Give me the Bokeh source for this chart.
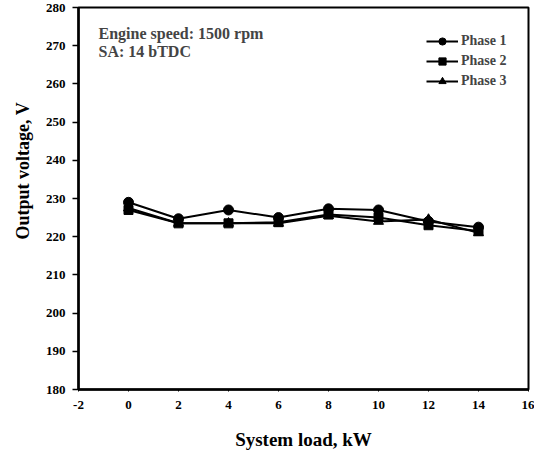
from bokeh.plotting import figure
from bokeh.models import Range1d, FixedTicker, Legend, LegendItem, Label, Title
from bokeh.embed import file_html
from bokeh.resources import INLINE

load_kw = [0, 2, 4, 6, 8, 10, 12, 14]
phase1 = [229.0, 224.7, 227.0, 225.0, 227.3, 227.0, 224.0, 222.5]
phase2 = [227.0, 223.5, 223.5, 223.8, 225.8, 225.0, 223.0, 221.5]
phase3 = [227.5, 223.5, 223.5, 223.5, 225.5, 224.0, 224.5, 221.0]
x_ticks = list(range(-2, 17, 2))
y_ticks = list(range(180, 281, 10))

FONT = "Liberation Serif"

p = figure(width=534, height=452, output_backend="svg", toolbar_location=None,
           x_range=Range1d(-2, 16), y_range=Range1d(180, 280),
           min_border_left=0, min_border_right=6, min_border_top=7, min_border_bottom=0)
p.background_fill_color = "white"
p.border_fill_color = "white"
p.outline_line_color = "black"
p.outline_line_width = 2
p.xgrid.visible = False
p.ygrid.visible = False

p.xaxis.ticker = FixedTicker(ticks=x_ticks)
p.yaxis.ticker = FixedTicker(ticks=y_ticks)
p.xaxis.major_label_overrides = {t: str(t) for t in x_ticks}
p.xaxis.minor_tick_line_color = None
p.yaxis.minor_tick_line_color = None
for ax in (p.xaxis, p.yaxis):
    ax.axis_line_width = 2.5
    ax.axis_line_color = "black"
    ax.major_tick_line_color = "black"
    ax.major_label_text_font = FONT
    ax.major_label_text_font_style = "bold"
    ax.major_label_text_font_size = "13px"
    ax.major_label_text_color = "black"
    ax.axis_label_text_font = FONT
    ax.axis_label_text_font_style = "bold"
    ax.axis_label_text_font_size = "19px"
    ax.axis_label_text_color = "black"
p.yaxis.major_tick_out = 6
p.yaxis.major_tick_in = 0
p.yaxis.major_tick_line_width = 1.5
p.xaxis.major_tick_out = 2
p.xaxis.major_tick_in = 0
p.xaxis.major_tick_line_width = 1
p.xaxis.major_label_standoff = 9
p.yaxis.major_label_standoff = 7
p.xaxis.axis_label = "System load, kW"
p.xaxis.axis_label_standoff = 17

ytitle = Title(text="Output voltage, V", align="left", offset=150,
               text_font=FONT, text_font_style="bold", text_font_size="18px",
               text_color="black", standoff=20)
p.add_layout(ytitle, "left")

r1l = p.line(load_kw, phase1, line_color="black", line_width=2)
r1m = p.scatter(load_kw, phase1, marker="circle", size=10, color="black")
r2l = p.line(load_kw, phase2, line_color="black", line_width=2)
r2m = p.scatter(load_kw, phase2, marker="square", size=9, color="black")
r3l = p.line(load_kw, phase3, line_color="black", line_width=2)
r3m = p.scatter(load_kw, phase3, marker="triangle", size=10, color="black")

legend = Legend(items=[
    LegendItem(label="Phase 1", renderers=[r1l, r1m]),
    LegendItem(label="Phase 2", renderers=[r2l, r2m]),
    LegendItem(label="Phase 3", renderers=[r3l, r3m]),
], location=(348, 299))
legend.border_line_color = None
legend.background_fill_alpha = 0
legend.label_text_font = FONT
legend.label_text_font_style = "bold"
legend.label_text_font_size = "14px"
legend.glyph_width = 32
legend.glyph_height = 18
legend.label_height = 18
legend.spacing = 2
legend.padding = 2
legend.margin = 0
legend.label_standoff = 3
p.add_layout(legend, "center")

p.add_layout(Label(x=-1.2, y=273.3, text="Engine speed: 1500 rpm", text_font=FONT,
                   text_font_style="bold", text_font_size="16px", text_baseline="middle"))
p.add_layout(Label(x=-1.2, y=268.4, text="SA: 14 bTDC", text_font=FONT,
                   text_font_style="bold", text_font_size="16px", text_baseline="middle"))

open("out.html", "w").write(file_html(p, INLINE))
